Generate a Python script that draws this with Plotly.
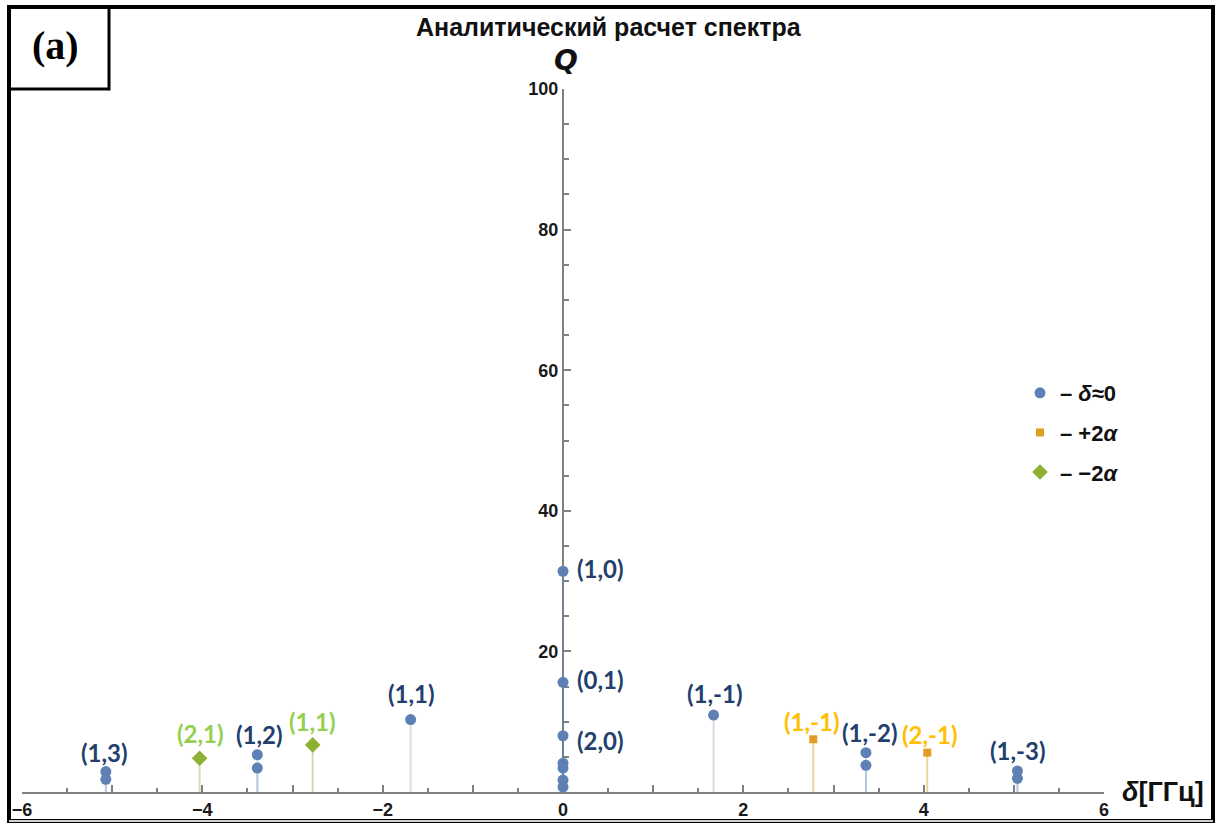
import plotly.graph_objects as go

# Spectrum lines: detuning delta [GHz] and Q for each mode family
blue_x = [0, 0, 0, 0, 0, 0, 0, -1.69, 1.67, -3.39, -3.39, 3.36, 3.36, -5.07, -5.07, 5.04, 5.04]
blue_y = [31.4, 15.6, 8.0, 4.1, 3.4, 1.7, 0.7, 10.3, 10.95, 5.3, 3.4, 5.6, 3.8, 2.9, 1.8, 3.0, 1.95]
blue_labels = ["(1,0)", "(0,1)", "(2,0)", None, None, None, None,
               "(1,1)", "(1,-1)", "(1,2)", None, "(1,-2)", None, "(1,3)", None, "(1,-3)", None]

orange_x = [2.776, 4.04]
orange_y = [7.5, 5.6]
orange_labels = ["(1,-1)", "(2,-1)"]

green_x = [-4.03, -2.776]
green_y = [4.8, 6.7]
green_labels = ["(2,1)", "(1,1)"]

legend_names = ["<b>– <i>δ</i>≈0</b>", "<b>– +2<i>α</i></b>", "<b>– −2<i>α</i></b>"]

x_ticks = [-6, -5, -4, -3, -2, -1, 0, 1, 2, 3, 4, 5, 6]
x_ticktext = ["−6", "", "−4", "", "−2", "", "0", "", "2", "", "4", "", "6"]
y_ticks = [20, 40, 60, 80, 100]
y_ticktext = ["20", "40", "60", "80", "100"]

# pixel offsets of the mode labels relative to their points (xanchor, dx, dy)
blue_offsets = {
    "(1,0)": ("left", 12, 3), "(0,1)": ("left", 12, 3), "(2,0)": ("left", 12, -5),
    "(1,1)": ("center", 1, 26), "(1,-1)": ("center", 1, 22),
    "(1,2)": ("center", 2, 20), "(1,-2)": ("center", 4, 20),
    "(1,3)": ("center", -1, 19), "(1,-3)": ("center", 1, 20),
}
orange_offsets = [("center", -1, 18), ("center", 3, 18)]
green_offsets = [("center", 1, 25), ("center", 0, 23)]

BLUE, ORANGE, GREEN = "#5E81B5", "#E19C24", "#8FB032"
BLUE_T, ORANGE_T, GREEN_T = "#233F6E", "#FFC000", "#92D050"


def stems(xs, ys):
    sx, sy = [], []
    for x, y in zip(xs, ys):
        sx += [x, x, None]
        sy += [0, y, None]
    return sx, sy


fig = go.Figure()

for xs, ys, col in [(blue_x, blue_y, "rgba(94,129,181,0.25)"),
                    (orange_x, orange_y, "rgba(225,156,36,0.45)"),
                    (green_x, green_y, "rgba(143,176,50,0.40)")]:
    sx, sy = stems(xs, ys)
    fig.add_trace(go.Scatter(x=sx, y=sy, mode="lines", line=dict(color=col, width=2),
                             showlegend=False, hoverinfo="skip", cliponaxis=False))

fig.add_trace(go.Scatter(x=blue_x, y=blue_y, mode="markers", name=legend_names[0],
                         legendgroup="a", cliponaxis=False,
                         marker=dict(symbol="circle", size=11, color=BLUE)))
fig.add_trace(go.Scatter(x=orange_x, y=orange_y, mode="markers", name=legend_names[1],
                         legendgroup="b", cliponaxis=False,
                         marker=dict(symbol="square", size=8, color=ORANGE)))
fig.add_trace(go.Scatter(x=green_x, y=green_y, mode="markers", name=legend_names[2],
                         legendgroup="c", cliponaxis=False,
                         marker=dict(symbol="diamond", size=12, color=GREEN)))

label_font = "Lato, 'Open Sans', sans-serif"
LABEL_SIZE = 24

for x, y, t in zip(blue_x, blue_y, blue_labels):
    if t is None:
        continue
    anc, dx, dy = blue_offsets[t]
    fig.add_annotation(x=x, y=y, text=f"<b>{t}</b>", showarrow=False, xanchor=anc,
                       yanchor="middle", xshift=dx, yshift=dy,
                       font=dict(family=label_font, size=LABEL_SIZE, color=BLUE_T))
for x, y, t, (anc, dx, dy) in zip(orange_x, orange_y, orange_labels, orange_offsets):
    fig.add_annotation(x=x, y=y, text=f"<b>{t}</b>", showarrow=False, xanchor=anc,
                       yanchor="middle", xshift=dx, yshift=dy,
                       font=dict(family=label_font, size=LABEL_SIZE, color=ORANGE_T))
for x, y, t, (anc, dx, dy) in zip(green_x, green_y, green_labels, green_offsets):
    fig.add_annotation(x=x, y=y, text=f"<b>{t}</b>", showarrow=False, xanchor=anc,
                       yanchor="middle", xshift=dx, yshift=dy,
                       font=dict(family=label_font, size=LABEL_SIZE, color=GREEN_T))

# page geometry in pixels: plot area spans x 22..1104, y 89..792
W, H = 1219, 823
L, R, T, B = 22, 6, 89, 31
PLOT_RIGHT = 1104
paper_w = W - L - R
ph = H - T - B
dom_right = (PLOT_RIGHT - L) / paper_w


def px(x):
    return (x - L) / paper_w


def py(y):
    return (H - B - y) / ph


# title, axis names and panel tag
fig.add_annotation(xref="paper", yref="paper", x=px(609), y=py(27), showarrow=False,
                   text="<b>Аналитический расчет спектра</b>", xanchor="center", yanchor="middle",
                   font=dict(family="Liberation Sans, Arial", size=25, color="#111"))
fig.add_annotation(xref="paper", yref="paper", x=px(566), y=py(60), showarrow=False,
                   text="<b><i>Q</i></b>", xanchor="center", yanchor="middle",
                   font=dict(family="DejaVu Sans", size=28, color="#111"))
fig.add_annotation(xref="paper", yref="paper", x=px(1163), y=py(792), showarrow=False,
                   text="<b><i>δ</i>[ГГц]</b>", xanchor="center", yanchor="middle",
                   font=dict(family="Liberation Sans, Arial", size=27, color="#111"))
fig.add_annotation(xref="paper", yref="paper", x=px(55), y=py(46), showarrow=False,
                   text="<b>(a)</b>", xanchor="center", yanchor="middle",
                   font=dict(family="Liberation Serif, Times New Roman", size=40, color="#000"))

# outer frame and tag box
fig.add_shape(type="rect", xref="paper", yref="paper", x0=px(9), x1=px(1213), y0=py(821), y1=py(7),
              line=dict(color="#000", width=4), layer="above")
fig.add_shape(type="line", xref="paper", yref="paper", x0=px(9), x1=px(1213), y0=py(821), y1=py(821),
              line=dict(color="#d0d0d0", width=2), layer="above")
fig.add_shape(type="rect", xref="paper", yref="paper", x0=px(9), x1=px(109), y0=py(89), y1=py(7),
              line=dict(color="#000", width=3), layer="above")

axis_col = "#808080"
tick_font = dict(family="Liberation Sans, Arial", size=18, color="#1a1a1a", weight="bold")

fig.update_layout(
    width=W, height=H, autosize=False,
    margin=dict(l=L, r=R, t=T, b=B, pad=0, autoexpand=False),
    paper_bgcolor="white", plot_bgcolor="white",
    xaxis=dict(range=[-6, 6], domain=[0, dom_right], automargin=False,
               showgrid=False, zeroline=False, showline=True,
               linecolor=axis_col, linewidth=2, tickvals=x_ticks, ticktext=x_ticktext,
               ticks="inside", ticklen=7, tickwidth=1.5, tickcolor=axis_col,
               tickfont=tick_font, layer="below traces",
               minor=dict(dtick=0.5, ticks="inside", ticklen=4, tickwidth=1.5, tickcolor=axis_col)),
    yaxis=dict(range=[0, 100], showgrid=False, zeroline=False, showline=True,
               anchor="free", position=dom_right / 2, automargin=False,
               linecolor=axis_col, linewidth=2, tickvals=y_ticks, ticktext=y_ticktext,
               ticks="inside", ticklen=7, tickwidth=1.5, tickcolor=axis_col,
               tickfont=tick_font, layer="below traces",
               minor=dict(dtick=5, ticks="inside", ticklen=5, tickwidth=1.5, tickcolor=axis_col)),
    legend=dict(x=px(1020), y=py(372), xanchor="left", yanchor="top",
                font=dict(family="Liberation Sans, Arial", size=22, color="#111"),
                bgcolor="rgba(0,0,0,0)", tracegroupgap=8, traceorder="grouped"),
)

fig.write_html("out.html")
